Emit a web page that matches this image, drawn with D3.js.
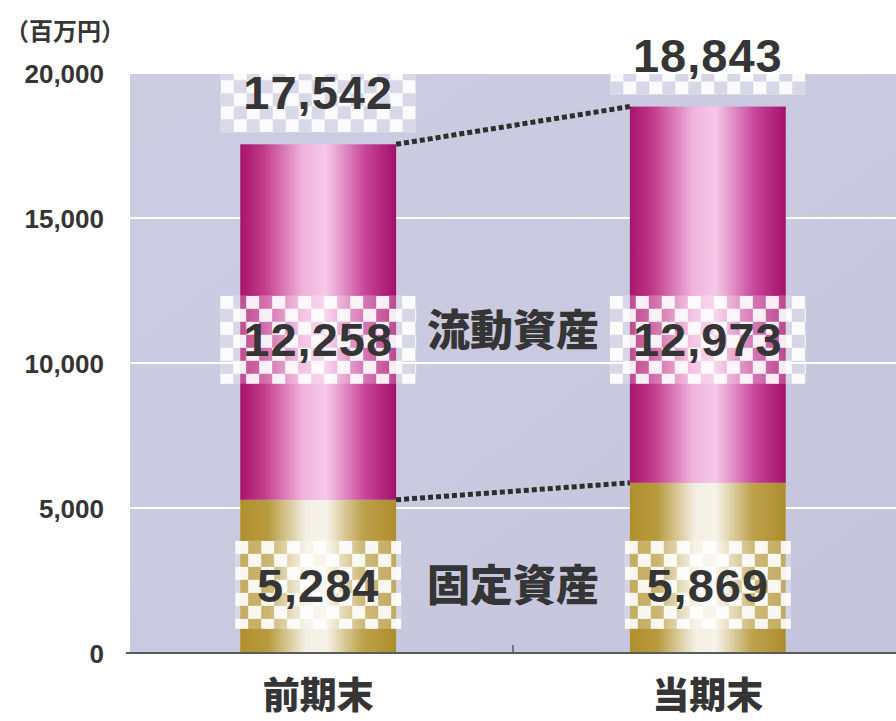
<!DOCTYPE html>
<html><head><meta charset="utf-8">
<script src="https://cdn.jsdelivr.net/npm/d3@7/dist/d3.min.js"></script>
<style>html,body{margin:0;padding:0;background:#fff;}svg{display:block;}</style>
</head><body>
<script>
// ---- data ----
const categories = ["前期末", "当期末"];
const fixedAssets = [5284, 5869];
const currentAssets = [12258, 12973];
const totals = [17542, 18843];
const seriesNames = ["固定資産", "流動資産"];
const yTicks = [0, 5000, 10000, 15000, 20000];
const unitLabel = "（百万円）";

// ---- layout ----
const W = 896, H = 721;
const plot = {left: 130, right: 896, top: 73, bottom: 653};
const numFont = "'Liberation Sans', Arial, sans-serif";
const cjkFont = "'Noto Sans CJK JP', sans-serif";
const ink = "#353535";

const svg = d3.select("body").append("svg").attr("width", W).attr("height", H);
const defs = svg.append("defs");

const x = d3.scaleBand().domain(categories).range([plot.left, plot.right])
  .paddingInner(0.6).paddingOuter(0.283);
const y = d3.scaleLinear().domain([0, 20000]).range([plot.bottom, plot.top]);
const fmt = d3.format(",");

// gradients
const bg = defs.append("linearGradient").attr("id", "bg").attr("x1", 0).attr("x2", 1).attr("y1", 0).attr("y2", 1);
bg.append("stop").attr("offset", 0).attr("stop-color", "#cdcde2");
bg.append("stop").attr("offset", 0.5).attr("stop-color", "#c9c9df");
bg.append("stop").attr("offset", 1).attr("stop-color", "#c4c5dc");

function hGrad(id, stops) {
  const g = defs.append("linearGradient").attr("id", id).attr("x1", 0).attr("x2", 1).attr("y1", 0).attr("y2", 0);
  stops.forEach(s => g.append("stop").attr("offset", s[0]).attr("stop-color", s[1]));
}
hGrad("gold", [[0, "#b08f2c"], [0.18, "#b89c40"], [0.42, "#f4efe4"], [0.55, "#f7f3ea"], [0.78, "#bea34e"], [1, "#ad8d2c"]]);
hGrad("mag", [[0, "#a8146c"], [0.15, "#c23b8a"], [0.4, "#f0b2dc"], [0.55, "#f6c8e8"], [0.8, "#c8469a"], [1, "#a3106a"]]);

// background
svg.append("rect").attr("x", plot.left).attr("y", plot.top)
  .attr("width", plot.right - plot.left).attr("height", plot.bottom - plot.top)
  .attr("fill", "url(#bg)");

// gridlines
svg.append("g").selectAll("line").data(yTicks.filter(d => d > 0)).join("line")
  .attr("x1", plot.left).attr("x2", plot.right)
  .attr("y1", d => y(d)).attr("y2", d => y(d))
  .attr("stroke", "#ffffff").attr("stroke-width", 2);

// bars
const bw = x.bandwidth();
svg.append("g").selectAll("rect").data(categories).join("rect")
  .attr("x", d => x(d)).attr("width", bw)
  .attr("y", (d, i) => y(fixedAssets[i])).attr("height", (d, i) => y(0) - y(fixedAssets[i]))
  .attr("fill", "url(#gold)");
svg.append("g").selectAll("rect").data(categories).join("rect")
  .attr("x", d => x(d)).attr("width", bw)
  .attr("y", (d, i) => y(fixedAssets[i] + currentAssets[i]))
  .attr("height", (d, i) => y(fixedAssets[i]) - y(fixedAssets[i] + currentAssets[i]))
  .attr("fill", "url(#mag)");

// checker boxes
const sq = 13;
let pid = 0;
function checker(cx, top, w, h) {
  const x0 = cx - w / 2;
  const id = "chk" + (pid++);
  const p = defs.append("pattern").attr("id", id).attr("patternUnits", "userSpaceOnUse")
    .attr("x", x0).attr("y", top).attr("width", sq * 2).attr("height", sq * 2);
  p.append("rect").attr("x", 0).attr("y", 0).attr("width", sq).attr("height", sq).attr("fill", "#fff").attr("fill-opacity", 0.92);
  p.append("rect").attr("x", sq).attr("y", sq).attr("width", sq).attr("height", sq).attr("fill", "#fff").attr("fill-opacity", 0.92);
  p.append("rect").attr("x", sq).attr("y", 0).attr("width", sq).attr("height", sq).attr("fill", "#fff").attr("fill-opacity", 0.25);
  p.append("rect").attr("x", 0).attr("y", sq).attr("width", sq).attr("height", sq).attr("fill", "#fff").attr("fill-opacity", 0.25);
  svg.append("rect").attr("x", x0).attr("y", top).attr("width", w).attr("height", h)
    .attr("fill", `url(#${id})`);
}

const midCurrent = 10800, midFixed = 2350;
categories.forEach((c, i) => {
  const cx = x(c) + bw / 2;
  const topY = y(totals[i]);
  checker(cx, topY - 12 - 78, 195, 78);
  checker(cx, y(midCurrent) - 44, 196, 88);
  checker(cx, y(midFixed) - 44, 166, 88);
});

// dotted connectors
const conn = [totals, fixedAssets];
svg.append("g").selectAll("line").data(conn).join("line")
  .attr("x1", x(categories[0]) + bw).attr("x2", x(categories[1]))
  .attr("y1", d => y(d[0])).attr("y2", d => y(d[1]))
  .attr("stroke", "#2e2e2e").attr("stroke-width", 5).attr("stroke-dasharray", "5,3");

// axis line + tick
svg.append("line").attr("x1", plot.left - 4).attr("x2", plot.right)
  .attr("y1", plot.bottom).attr("y2", plot.bottom).attr("stroke", "#5a5a5a").attr("stroke-width", 2);
svg.append("line").attr("x1", (x(categories[0]) + bw + x(categories[1])) / 2)
  .attr("x2", (x(categories[0]) + bw + x(categories[1])) / 2)
  .attr("y1", plot.bottom - 8).attr("y2", plot.bottom).attr("stroke", "#5a5a5a").attr("stroke-width", 1.5);

// y labels
const yAxis = svg.append("g").attr("transform", `translate(${104},0)`)
  .call(d3.axisLeft(y).tickValues(yTicks).tickFormat(fmt).tickSize(0).tickPadding(0));
yAxis.select(".domain").remove();
yAxis.selectAll("text").attr("font-family", numFont).attr("font-weight", "bold")
  .attr("font-size", 26).attr("fill", ink).attr("dy", "0.35em");

svg.append("text").attr("x", 5).attr("y", 40).text(unitLabel)
  .attr("font-family", cjkFont).attr("font-weight", "bold").attr("font-size", 24).attr("fill", ink);

// x labels
svg.append("g").selectAll("text").data(categories).join("text")
  .attr("x", d => x(d) + bw / 2).attr("y", 709).attr("text-anchor", "middle")
  .attr("font-family", cjkFont).attr("font-weight", 900).attr("font-size", 37).attr("fill", ink)
  .text(d => d);

// value labels
function numText(cx, base, v) {
  svg.append("text").attr("x", cx).attr("y", base).attr("text-anchor", "middle")
    .attr("font-family", numFont).attr("font-weight", "bold").attr("font-size", 47)
    .attr("letter-spacing", 1).attr("fill", ink).text(fmt(v));
}
categories.forEach((c, i) => {
  const cx = x(c) + bw / 2;
  numText(cx, y(totals[i]) - 35, totals[i]);
  numText(cx, y(midCurrent) + 16, currentAssets[i]);
  numText(cx, y(midFixed) + 17, fixedAssets[i]);
});

// series names between bars
const midX = (x(categories[0]) + bw + x(categories[1])) / 2;
[[seriesNames[1], midCurrent, 6], [seriesNames[0], midFixed, 16]].forEach(([t, v, dy]) => {
  svg.append("text").attr("x", midX).attr("y", y(v) + dy).attr("text-anchor", "middle")
    .attr("font-family", cjkFont).attr("font-weight", 900).attr("font-size", 43)
    .attr("fill", ink).text(t);
});
</script>
</body></html>
